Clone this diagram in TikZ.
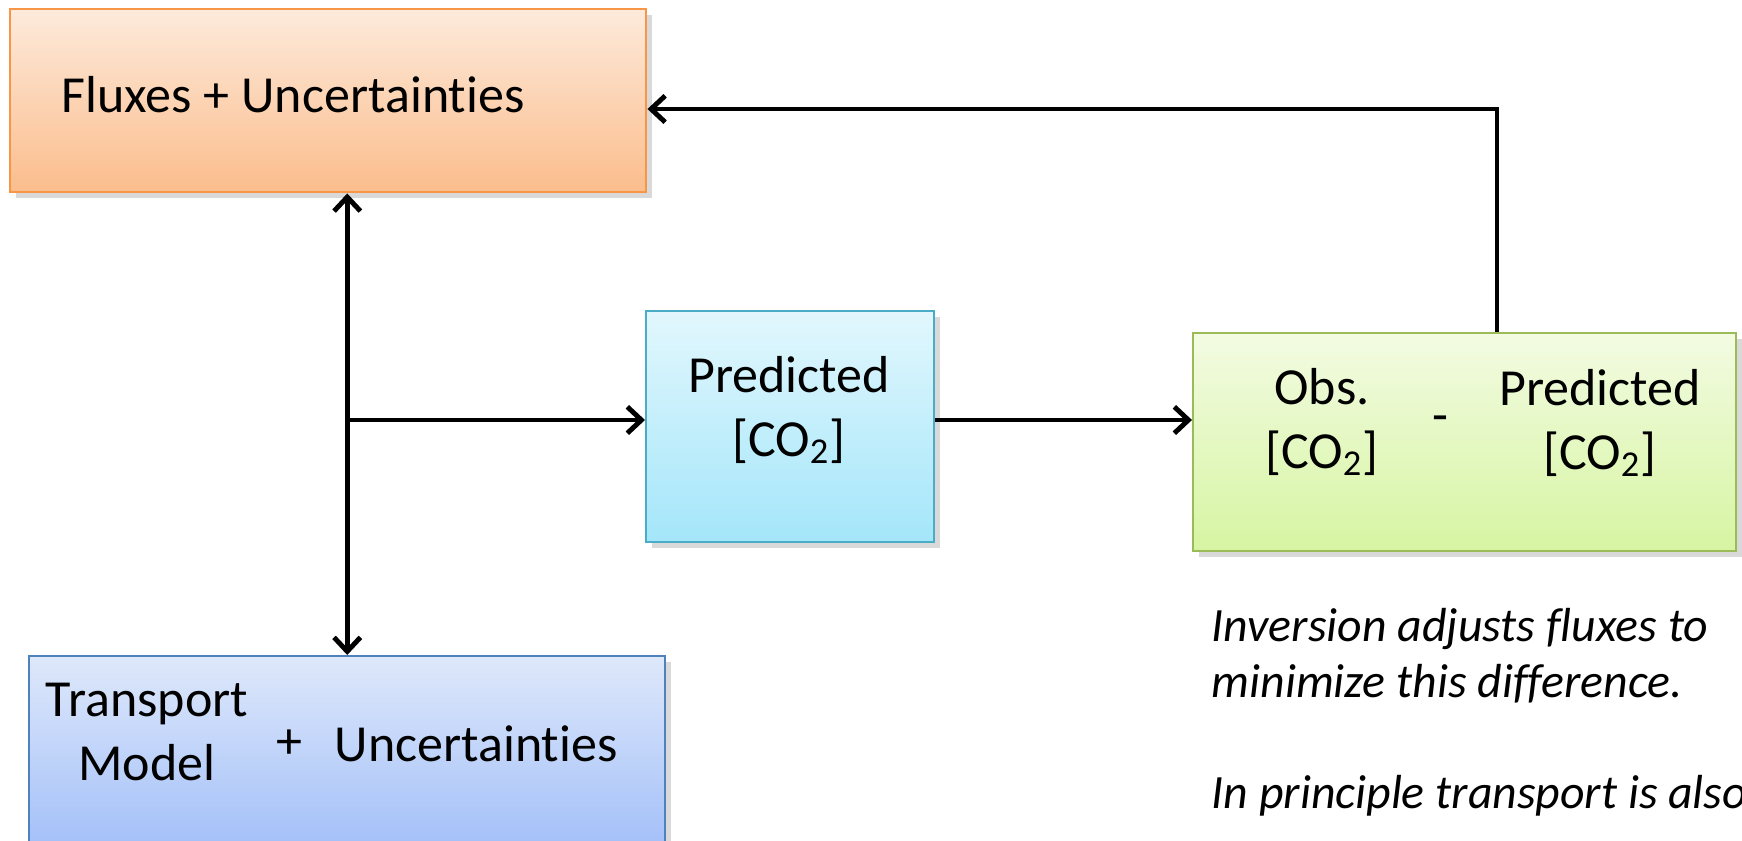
\documentclass[tikz,border=0pt]{standalone}
\usepackage{fontspec}
\setmainfont{Carlito}[Ligatures=NoCommon]
\usetikzlibrary{arrows.meta,shadows}
\begin{document}
\begin{tikzpicture}[box/.style={draw,line width=0.7pt,inner sep=0pt,anchor=north west,
    drop shadow={opacity=0.3,shadow xshift=1.6pt,shadow yshift=-1.6pt}},
  boxtext/.style={align=center,font=\fontsize{14.8}{18.2}\selectfont,inner sep=0pt},
  >={Straight Barb[length=4pt,width=7.5pt,line width=1.4pt]},
  arr/.style={line width=1.4pt,->}]
\definecolor{fluxtop}{HTML}{FDEADB}
\definecolor{fluxbot}{HTML}{FBBD8C}
\definecolor{fluxline}{HTML}{F79646}
\definecolor{predtop}{HTML}{E2F7FD}
\definecolor{predbot}{HTML}{A4E6FA}
\definecolor{predline}{HTML}{4BACC6}
\definecolor{difftop}{HTML}{F3FBE2}
\definecolor{diffbot}{HTML}{D6F5A2}
\definecolor{diffline}{HTML}{9BBB59}
\definecolor{transtop}{HTML}{DEE8FA}
\definecolor{transbot}{HTML}{A2BFF9}
\definecolor{transline}{HTML}{4F81BD}
\useasboundingbox (0,0) rectangle (17.42,-8.40);
\clip (0,0) rectangle (17.42,-8.40);
\node[box,draw=fluxline,top color=fluxtop,bottom color=fluxbot,minimum width=6.36cm,minimum height=1.83cm] (flux) at (0.09,-0.08) {};
\node[box,draw=predline,top color=predtop,bottom color=predbot,minimum width=2.88cm,minimum height=2.31cm] (pred) at (6.45,-3.10) {};
\node[box,draw=diffline,top color=difftop,bottom color=diffbot,minimum width=5.43cm,minimum height=2.18cm] (diff) at (11.92,-3.32) {};
\node[box,draw=transline,top color=transtop,bottom color=transbot,minimum width=6.36cm,minimum height=1.95cm] (trans) at (0.28,-6.55) {};
\node[boxtext,anchor=base west] (fluxtxt) at (0.61,-1.12) {Fluxes + Uncertainties};
\node[boxtext] (predtxt) at (7.89,-4.10) {Predicted\\{}[CO\textsubscript{2}]};
\node[boxtext] (obstxt) at (13.22,-4.22) {Obs.\\{}[CO\textsubscript{2}]};
\node[boxtext] (minus) at (14.40,-4.24) {-};
\node[boxtext] (predtxt2) at (16.00,-4.23) {Predicted\\{}[CO\textsubscript{2}]};
\node[boxtext] (modeltxt) at (1.47,-7.32) {Transport\\Model};
\node[boxtext] (plus) at (2.89,-7.44) {+};
\node[boxtext] (trunc) at (4.76,-7.44) {Uncertainties};
\node[align=left,anchor=north west,inner sep=0pt,font=\fontsize{13.6}{15.8}\selectfont\itshape] (note) at (12.11,-6.08)
  {Inversion adjusts fluxes to\\minimize this difference.\\[15.8pt]In principle transport is also};
\coordinate (split) at (3.46,-4.20);
\coordinate (back) at (14.97,-1.09);
\draw[arr,<->] (flux.south -| trans.north) -- (trans.north);
\draw[arr] (split -| trans.north) -- (split -| pred.west);
\draw[arr] (split -| pred.east) -- (split -| diff.west);
\draw[arr] (diff.north -| back) -- (back) -- (back -| flux.east);
\end{tikzpicture}
\end{document}
